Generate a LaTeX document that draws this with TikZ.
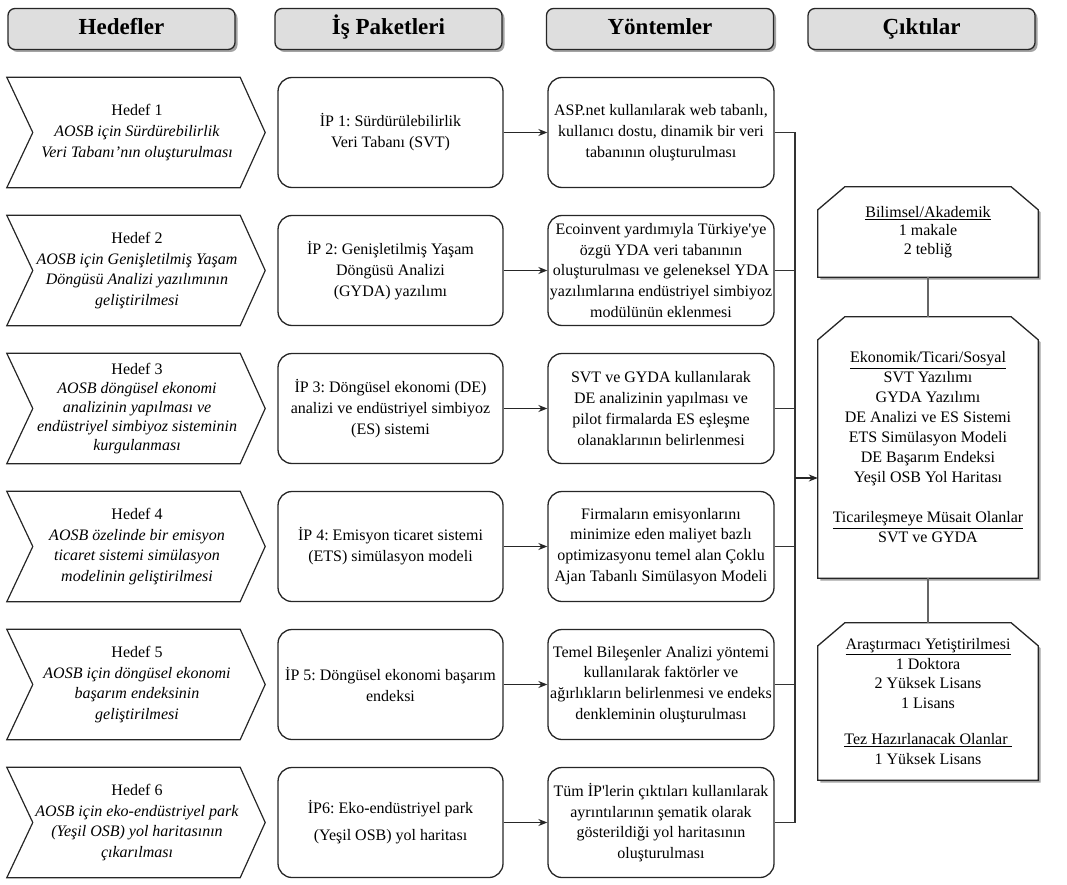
\documentclass[tikz,border=0pt]{standalone}
\usepackage{fontspec}
\setmainfont{Liberation Serif}
\usetikzlibrary{arrows.meta,shadows,calc}
\frenchspacing
\newcommand\chevshape[1]{%
  \draw[chevline] ($(#1.north west)+(-27,0)$) -- (#1.north east) -- ($(#1.east)+(25,0)$) --
    (#1.south east) -- ($(#1.south west)+(-27,0)$) -- ($(#1.west)+(-1,0)$) -- cycle;}
\newcommand\octshape[1]{%
  \draw[octline] (#1.south west) -- ($(#1.north west)+(0,23)$) -- ($(#1.north west)+(27,0)$) --
    ($(#1.north east)+(-27,0)$) -- ($(#1.north east)+(0,23)$) -- (#1.south east) -- cycle;}
\begin{document}
\begin{tikzpicture}[x=1pt,y=-1pt,
  every node/.style={font=\fontsize{16}{20.8}\selectfont, align=center, inner sep=1pt, text=black},
  hdr/.style={draw=black!85, line width=1.3pt, rounded corners=7pt, fill=black!13,
    minimum width=227pt, minimum height=41pt, text height=16pt, text depth=4pt,
    font=\fontsize{23}{26}\selectfont\bfseries,
    drop shadow={shadow xshift=2.5pt, shadow yshift=-2.5pt, fill=black!45, opacity=0.8}},
  chevtxt/.style={minimum width=206pt, minimum height=110pt},
  chevline/.style={draw=black!85, line width=1.2pt, line join=miter},
  ipbox/.style={draw=black!85, line width=1.3pt, rounded corners=14pt,
    minimum width=225pt, minimum height=110pt},
  ybox/.style={draw=black!85, line width=1.3pt, rounded corners=14pt,
    minimum width=226pt, minimum height=110pt},
  outtxt/.style={minimum width=220pt},
  octline/.style={draw=black!85, line width=1.3pt, fill=white,
    drop shadow={shadow xshift=2.5pt, shadow yshift=-2.5pt, fill=black!45, opacity=0.8}},
  arr/.style={draw=black!85, line width=1.3pt, -{Stealth[length=9pt,width=7pt]}},
  link/.style={draw=black!80, line width=1.2pt},
  glink/.style={draw=black!60, line width=1.2pt}
]
\useasboundingbox (0,0) rectangle (1067,885);

% headers
\node[hdr] (hA) at (121.5,29) {Hedefler};
\node[hdr] (hB) at (388.5,29) {İş Paketleri};
\node[hdr] (hC) at (660,29) {Yöntemler};
\node[hdr] (hD) at (921.5,29) {Çıktılar};

% goals (chevrons)
\node[chevtxt] (g1) at (137,132.5) {Hedef 1\\ \textit{AOSB için Sürdürebilirlik}\\ \textit{Veri Tabanı’nın oluşturulması}};
\node[chevtxt] (g2) at (137,270.5) {Hedef 2\\ \textit{AOSB için Genişletilmiş Yaşam}\\ \textit{Döngüsü Analizi yazılımının}\\ \textit{geliştirilmesi}};
\node[chevtxt, font=\fontsize{16}{18.8}\selectfont] (g3) at (137,408.5) {Hedef 3\\ \textit{AOSB döngüsel ekonomi}\\ \textit{analizinin yapılması ve}\\ \textit{endüstriyel simbiyoz sisteminin}\\ \textit{kurgulanması}};
\node[chevtxt] (g4) at (137,546.5) {Hedef 4\\ \textit{AOSB özelinde bir emisyon}\\ \textit{ticaret sistemi simülasyon}\\ \textit{modelinin geliştirilmesi}};
\node[chevtxt] (g5) at (137,684.5) {Hedef 5\\ \textit{AOSB için döngüsel ekonomi}\\ \textit{başarım endeksinin}\\ \textit{geliştirilmesi}};
\node[chevtxt] (g6) at (137,822.5) {Hedef 6\\ \textit{AOSB için eko-endüstriyel park}\\ \textit{(Yeşil OSB) yol haritasının}\\ \textit{çıkarılması}};
\foreach \n in {g1,g2,g3,g4,g5,g6} {\chevshape{\n}}

% work packages
\node[ipbox] (p1) at (390.5,132.5) {İP 1: Sürdürülebilirlik\\ Veri Tabanı (SVT)};
\node[ipbox] (p2) at (390.5,270.5) {İP 2: Genişletilmiş Yaşam\\ Döngüsü Analizi\\ (GYDA) yazılımı};
\node[ipbox] (p3) at (390.5,408.5) {İP 3: Döngüsel ekonomi (DE)\\ analizi ve endüstriyel simbiyoz\\ (ES) sistemi};
\node[ipbox] (p4) at (390.5,546.5) {İP 4: Emisyon ticaret sistemi\\ (ETS) simülasyon modeli};
\node[ipbox] (p5) at (390.5,684.5) {İP 5: Döngüsel ekonomi başarım\\ endeksi};
\node[ipbox, font=\fontsize{16}{27}\selectfont] (p6) at (390.5,822.5) {İP6: Eko-endüstriyel park\\ (Yeşil OSB) yol haritası};

% methods
\node[ybox] (y1) at (661,132.5) {ASP.net kullanılarak web tabanlı,\\ kullanıcı dostu, dinamik bir veri\\ tabanının oluşturulması};
\node[ybox] (y2) at (661,270.5) {Ecoinvent yardımıyla Türkiye\textquotesingle ye\\ özgü YDA veri tabanının\\ oluşturulması ve geleneksel YDA\\ yazılımlarına endüstriyel simbiyoz\\ modülünün eklenmesi};
\node[ybox] (y3) at (661,408.5) {SVT ve GYDA kullanılarak\\ DE analizinin yapılması ve\\ pilot firmalarda ES eşleşme\\ olanaklarının belirlenmesi};
\node[ybox] (y4) at (661,546.5) {Firmaların emisyonlarını\\ minimize eden maliyet bazlı\\ optimizasyonu temel alan Çoklu\\ Ajan Tabanlı Simülasyon Modeli};
\node[ybox] (y5) at (661,684.5) {Temel Bileşenler Analizi yöntemi\\ kullanılarak faktörler ve\\ ağırlıkların belirlenmesi ve endeks\\ denkleminin oluşturulması};
\node[ybox] (y6) at (661,822.5) {Tüm İP\textquotesingle lerin çıktıları kullanılarak\\ ayrıntılarının şematik olarak\\ gösterildiği yol haritasının\\ oluşturulması};

\foreach \i in {1,...,6} {\draw[arr] (p\i.east) -- (y\i.west);}

% outputs
\node[outtxt, minimum height=90pt] (o1) at (928,232) {};
\node[outtxt, minimum height=261pt] (o2) at (928,447.5) {};
\node[outtxt, minimum height=157pt] (o3) at (928,701.5) {};
\octshape{o1}
\octshape{o2}
\octshape{o3}
\node[font=\fontsize{16}{18.5}\selectfont, align=center] (o1t) at (o1.center) {\underline{Bilimsel/Akademik}\\ 1 makale\\ 2 tebliğ};
\node[font=\fontsize{16}{20}\selectfont, align=center] (o2t) at (o2.center) {\underline{Ekonomik/Ticari/Sosyal}\\ SVT Yazılımı\\ GYDA Yazılımı\\ DE Analizi ve ES Sistemi\\ ETS Simülasyon Modeli\\ DE Başarım Endeksi\\ Yeşil OSB Yol Haritası\\[20pt] \underline{Ticarileşmeye Müsait Olanlar}\\ SVT ve GYDA};
\node[font=\fontsize{16}{19.5}\selectfont, align=center] (o3t) at (o3.center) {\underline{Araştırmacı Yetiştirilmesi}\\ 1 Doktora\\ 2 Yüksek Lisans\\ 1 Lisans\\[17pt] \underline{Tez Hazırlanacak Olanlar\ }\\ 1 Yüksek Lisans};

\draw[glink] (o1.south) -- (o2.north);
\draw[glink] (o2.south) -- (o3.north);

% bus
\coordinate (bus) at (795,478);
\draw[link] (y1.east) -- (y1.east -| bus) -- (y6.east -| bus) -- (y6.east);
\foreach \i in {2,...,5} {\draw[link] (y\i.east) -- (y\i.east -| bus);}
\draw[arr] (bus) -- (bus -| o2.west);
\end{tikzpicture}
\end{document}
